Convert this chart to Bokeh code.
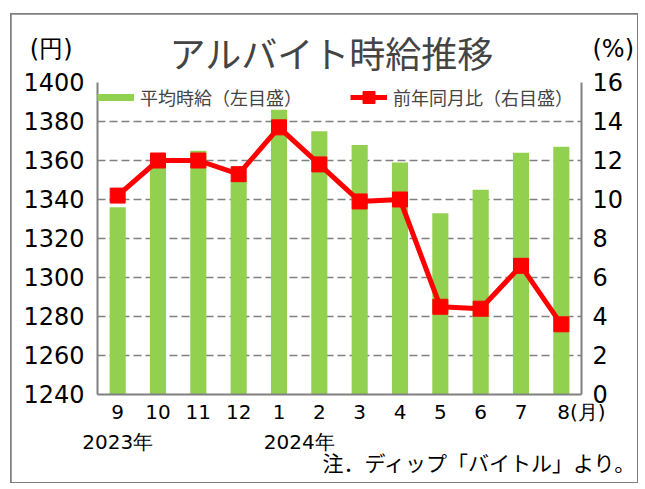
from bokeh.plotting import figure
from bokeh.models import (Range1d, LinearAxis, FixedTicker, Legend,
                          LegendItem, Title)
from bokeh.embed import file_html
from bokeh.resources import INLINE

# ---- data ----
months = ["9", "10", "11", "12", "1", "2", "3", "4", "5", "6", "7", "8"]
wage = [1336, 1357, 1365, 1350, 1386, 1375, 1368, 1359, 1333, 1345, 1364, 1367]
yoy = [10.2, 12.0, 12.0, 11.3, 13.7, 11.8, 9.9, 10.0, 4.5, 4.4, 6.6, 3.6]
left_ticks = [1240, 1260, 1280, 1300, 1320, 1340, 1360, 1380, 1400]
right_ticks = [0, 2, 4, 6, 8, 10, 12, 14, 16]
year_labels = ["2023年", "2024年"]
year_pos = [0.0, 4.5]
title_text = "アルバイト時給推移"
note_text = "注．ディップ「バイトル」より。"
note_pos = 9.0
legend_labels = ["平均時給（左目盛）", "前年同月比（右目盛）"]
left_unit = "(円)"
right_unit = "(%)"
month_unit = "(月)"

GREEN = "#92D050"
RED = "#FF0000"
GRAY = "#808080"
JP = "Noto Sans CJK JP"
NUM = "DejaVu Sans"

idx = list(range(len(months)))

# canvas placed at (11, 14) on the page, framed by an outline
OX, OY = 11, 14
W, H = 626, 468
p = figure(width=W, height=H, output_backend="svg", toolbar_location=None,
           x_range=Range1d(-0.5, 11.5), y_range=Range1d(1240, 1400),
           min_border_left=97 - OX, min_border_right=W - (582 - OX),
           min_border_top=82 - OY, min_border_bottom=H - (394 - OY))
p.styles = {"margin-left": f"{OX}px", "margin-top": f"{OY}px",
            "outline": "2px solid #7f7f7f", "outline-offset": "-1px"}
p.title = Title(text=title_text, align="left", text_font=JP,
                text_font_size="36px", text_font_style="normal", offset=72,
                standoff=10)
p.outline_line_color = None
p.background_fill_color = "white"
p.border_fill_color = "white"
p.xgrid.visible = False
p.ygrid.grid_line_color = GRAY
p.ygrid.grid_line_dash = "8 4"
p.ygrid.grid_line_width = 1.5

p.extra_y_ranges = {"pct": Range1d(0, 16)}

# bars
p.vbar(x=idx, top=wage, bottom=1240, width=0.4, fill_color=GREEN,
       line_color=None)
# line
r_line = p.line(idx, yoy, y_range_name="pct", line_color=RED, line_width=5)
r_mark = p.scatter(idx, yoy, y_range_name="pct", marker="square", size=15,
                   fill_color=RED, line_color=RED)

# axes
month_over = {i: m for i, m in zip(idx, months)}
month_over[idx[-1]] = "\u3000\u3000" + months[-1] + month_unit
xa = p.xaxis[0]
xa.ticker = FixedTicker(ticks=idx)
xa.major_label_overrides = month_over
xa.major_label_text_font = NUM
xa.major_label_text_font_size = "20px"
xa.major_tick_out = 0
xa.major_label_standoff = 5

left_over = {t: str(t) for t in left_ticks}
left_over[left_ticks[-1]] = left_unit + "\u2002\n" + str(left_ticks[-1]) + "\n\u00a0"
ya = p.yaxis[0]
ya.ticker = FixedTicker(ticks=left_ticks)
ya.major_label_overrides = left_over
ya.major_label_text_font = NUM
ya.major_label_text_font_size = "24px"
ya.major_label_text_line_height = 1.2
ya.major_label_standoff = 7

right_over = {t: str(t) for t in right_ticks}
right_over[right_ticks[-1]] = right_unit + "\n" + str(right_ticks[-1]) + "\n\u00a0"
ra = LinearAxis(y_range_name="pct", ticker=FixedTicker(ticks=right_ticks),
                major_label_overrides=right_over)
ra.major_label_text_font = NUM
ra.major_label_text_font_size = "24px"
ra.major_label_text_line_height = 1.2
ra.major_label_standoff = 5
p.add_layout(ra, "right")

for ax in (xa, ya, ra):
    ax.axis_line_color = GRAY
    ax.axis_line_width = 2
    ax.major_tick_line_color = None
    ax.minor_tick_line_color = None
    ax.major_label_text_color = "black"

# year labels as a second bottom axis
ya2 = LinearAxis(ticker=FixedTicker(ticks=year_pos),
                 major_label_overrides={v: t for v, t in zip(year_pos, year_labels)})
ya2.major_label_text_font = NUM
ya2.major_label_text_font_size = "20px"
ya2.major_label_standoff = 3
# note as a third bottom axis
na = LinearAxis(ticker=FixedTicker(ticks=[note_pos]),
                major_label_overrides={note_pos: note_text})
na.major_label_text_font = JP
na.major_label_text_font_size = "21px"
na.major_label_standoff = -10
for ax in (ya2, na):
    ax.axis_line_color = None
    ax.major_tick_out = 0
    ax.major_tick_line_color = None
    ax.minor_tick_line_color = None
    ax.major_label_text_color = "black"
    p.add_layout(ax, "below")

# legend
r_leg_bar = p.line(x=[-10, -9], y=[1200, 1200], line_color=GREEN, line_width=7)
legend = Legend(items=[LegendItem(label=legend_labels[0], renderers=[r_leg_bar]),
                       LegendItem(label=legend_labels[1], renderers=[r_line, r_mark])],
                location="top_left", orientation="horizontal",
                glyph_width=37, glyph_height=30, label_standoff=6, spacing=48,
                padding=0, margin=0, border_line_color=None,
                background_fill_alpha=0, label_text_font=JP,
                label_text_font_size="18px", label_text_baseline="middle")
p.add_layout(legend)

open("out.html", "w").write(file_html(p, INLINE))
